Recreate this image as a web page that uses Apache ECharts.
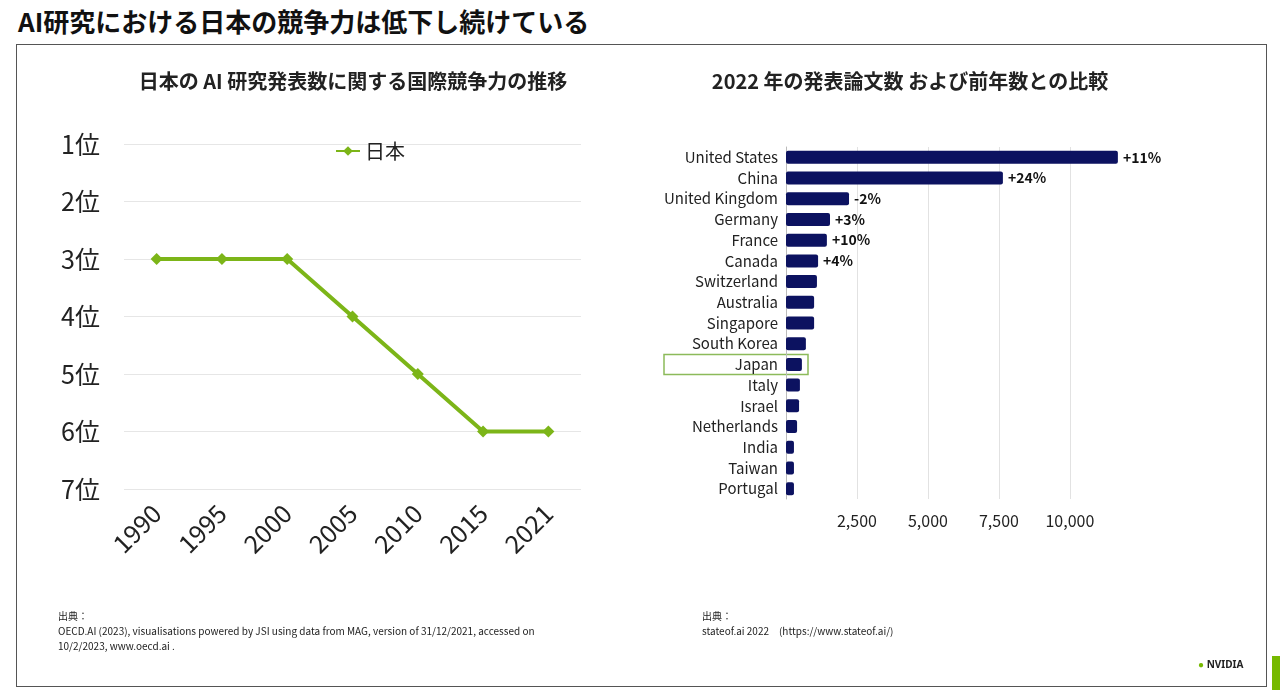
<!DOCTYPE html>
<html><head><meta charset="utf-8">
<script src="https://cdn.jsdelivr.net/npm/echarts@6/dist/echarts.min.js"></script>
<style>
body{margin:0;background:#fff;font-family:"Noto Sans CJK JP",sans-serif;}
#title{position:absolute;left:18px;top:2px;font-size:26px;font-weight:bold;color:#111;}
#frame{position:absolute;left:16px;top:44px;width:1251px;height:643px;border:1px solid #555;box-sizing:border-box;}
#chart{position:absolute;left:0;top:0;width:1280px;height:690px;}
.src{position:absolute;font-size:10px;color:#222;line-height:15px;}
#bar{position:absolute;left:1272px;top:656px;width:8px;height:34px;background:#76b900;}
#nv{position:absolute;left:1198px;top:657px;font-size:10px;font-weight:bold;color:#222;font-family:"Noto Sans";}
</style></head>
<body>
<div id="title">AI研究における日本の競争力は低下し続けている</div>
<div id="frame"></div>
<div id="chart"></div>
<div class="src" style="left:58px;top:608px;">出典：<br>OECD.AI (2023), visualisations powered by JSI using data from MAG, version of 31/12/2021, accessed on<br>10/2/2023, www.oecd.ai .</div>
<div class="src" style="left:702px;top:608px;">出典：<br>stateof.ai 2022　(https://www.stateof.ai/)</div>
<div id="nv"><span style="color:#76b900">●</span> NVIDIA</div>
<div id="bar"></div>
<script>
var years = ['1990','1995','2000','2005','2010','2015','2021'];
var japanRank = [3,3,3,4,5,6,6];
var countries = ['United States','China','United Kingdom','Germany','France','Canada','Switzerland','Australia','Singapore','South Korea','Japan','Italy','Israel','Netherlands','India','Taiwan','Portugal'];
var papers = [11690,7640,2220,1550,1440,1130,1090,990,990,700,560,490,460,390,280,280,280];
var growth = ['+11%','+24%','-2%','+3%','+10%','+4%','','','','','','','','','','',''];

var chart = echarts.init(document.getElementById('chart'));
var font = '"Noto Sans CJK JP", sans-serif';
chart.setOption({
  textStyle:{fontFamily:font},
  title:[
    {text:'日本の AI 研究発表数に関する国際競争力の推移',left:348,top:66,textAlign:'center',textStyle:{fontSize:20,fontWeight:'bold',color:'#222'}},
    {text:'2022 年の発表論文数 および前年数との比較',left:905,top:66,textAlign:'center',textStyle:{fontSize:20,fontWeight:'bold',color:'#222'}}
  ],
  legend:{data:['日本'],left:330,top:136,itemWidth:24,itemHeight:12,itemGap:2,textStyle:{fontSize:20,color:'#222'}},
  grid:[
    {left:124,width:457,top:144,height:345},
    {left:786,right:159,top:147,height:352}
  ],
  xAxis:[
    {gridIndex:0,type:'category',data:years,boundaryGap:true,
      axisLine:{show:false},axisTick:{show:false},
      axisLabel:{rotate:45,fontSize:25,color:'#222',margin:20,interval:0}},
    {gridIndex:1,type:'value',min:0,max:11800,interval:2500,
      axisLine:{show:false},axisTick:{show:false},
      splitLine:{showMaxLine:false,lineStyle:{color:'#e2e2e2'}},
      axisLabel:{fontSize:16,color:'#222',margin:14,showMaxLabel:false,
        formatter:function(v){return v===0||v>10000?'':v.toLocaleString('en-US');}}}
  ],
  yAxis:[
    {gridIndex:0,type:'value',inverse:true,min:1,max:7,interval:1,
      axisLine:{show:false},axisTick:{show:false},
      splitLine:{lineStyle:{color:'#e6e6e6'}},
      axisLabel:{fontSize:25,color:'#222',margin:24,formatter:function(v){return v+'位';}}},
    {gridIndex:1,type:'category',data:countries,inverse:true,
      axisLine:{show:true,lineStyle:{color:'#bbb'}},axisTick:{show:false},
      axisLabel:{fontSize:15,color:'#222',margin:8,interval:0}}
  ],
  series:[
    {name:'日本',type:'line',xAxisIndex:0,yAxisIndex:0,data:japanRank,
      lineStyle:{color:'#7cb518',width:4},itemStyle:{color:'#7cb518'},
      symbol:'diamond',symbolSize:12},
    {type:'bar',xAxisIndex:1,yAxisIndex:1,data:papers,barWidth:13,
      itemStyle:{color:'#0c1260',borderRadius:2},
      label:{show:true,position:'right',fontSize:14,fontWeight:'bold',color:'#111',distance:5,
        formatter:function(p){return growth[p.dataIndex];}}}
  ]
});
var ji = countries.indexOf('Japan');
var py = chart.convertToPixel({xAxisIndex:1,yAxisIndex:1},[0,ji]);
chart.setOption({graphic:[{type:'rect',shape:{x:664,y:py[1]-10,width:144,height:20},
  style:{fill:'none',stroke:'#8cba5a',lineWidth:1.5}}]});
</script>
</body></html>
